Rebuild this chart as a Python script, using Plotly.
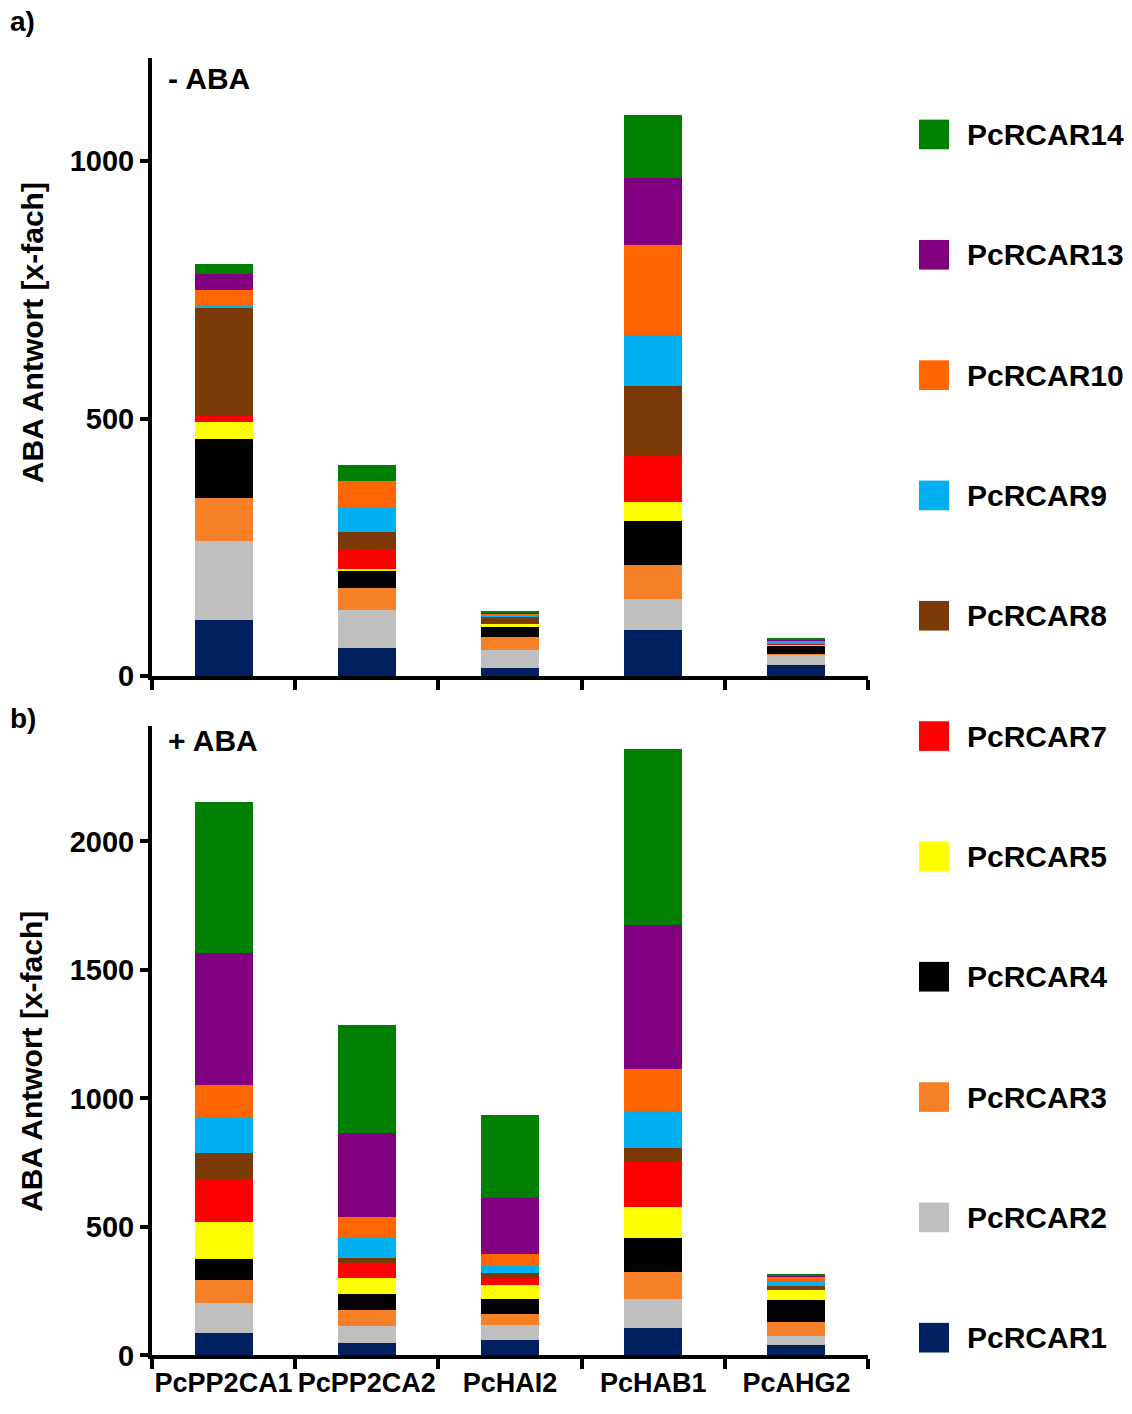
import plotly.graph_objects as go

W, H = 1132, 1414

# ---------------- data ----------------
categories = ["PcPP2CA1", "PcPP2CA2", "PcHAI2", "PcHAB1", "PcAHG2"]
series_names = ["PcRCAR1", "PcRCAR2", "PcRCAR3", "PcRCAR4", "PcRCAR5", "PcRCAR7",
                "PcRCAR8", "PcRCAR9", "PcRCAR10", "PcRCAR13", "PcRCAR14"]
series_colors = ["#002060", "#BFBFBF", "#F58025", "#000000", "#FFFF00", "#FF0000",
                 "#7B3907", "#00B0F0", "#FF6600", "#800080", "#008000"]

# a) - ABA
minus_RCAR1 = [110, 54, 16, 89, 22]
minus_RCAR2 = [152, 75, 35, 62, 20]
minus_RCAR3 = [85, 42, 25, 66, 2]
minus_RCAR4 = [114, 34, 20, 85, 15]
minus_RCAR5 = [32, 3, 5, 36, 2]
minus_RCAR7 = [12, 40, 2, 89, 1]
minus_RCAR8 = [210, 32, 13, 137, 1]
minus_RCAR9 = [5, 48, 2, 99, 3]
minus_RCAR10 = [30, 52, 3, 174, 3]
minus_RCAR13 = [31, 0, 1, 131, 2]
minus_RCAR14 = [19, 30, 5, 122, 1]

# b) + ABA
plus_RCAR1 = [86, 50, 60, 105, 41]
plus_RCAR2 = [117, 65, 58, 113, 35]
plus_RCAR3 = [91, 61, 44, 108, 54]
plus_RCAR4 = [81, 63, 59, 131, 85]
plus_RCAR5 = [145, 61, 55, 122, 40]
plus_RCAR7 = [165, 61, 26, 174, 8]
plus_RCAR8 = [103, 19, 20, 56, 6]
plus_RCAR9 = [136, 81, 27, 142, 19]
plus_RCAR10 = [127, 79, 45, 164, 19]
plus_RCAR13 = [514, 327, 219, 559, 5]
plus_RCAR14 = [589, 420, 324, 687, 4]

minus_values = [minus_RCAR1, minus_RCAR2, minus_RCAR3, minus_RCAR4, minus_RCAR5, minus_RCAR7,
                minus_RCAR8, minus_RCAR9, minus_RCAR10, minus_RCAR13, minus_RCAR14]
plus_values = [plus_RCAR1, plus_RCAR2, plus_RCAR3, plus_RCAR4, plus_RCAR5, plus_RCAR7,
               plus_RCAR8, plus_RCAR9, plus_RCAR10, plus_RCAR13, plus_RCAR14]

yticks_a = [0, 500, 1000]
yticks_b = [0, 500, 1000, 1500, 2000]
y_title = "ABA Antwort [x-fach]"

# ---------------- figure ----------------
FONT = "Liberation Sans"


def px(x):
    return x / W


def py(y):
    return 1 - y / H


fig = go.Figure()

for name, color, vals in zip(series_names, series_colors, minus_values):
    fig.add_trace(go.Bar(x=categories, y=vals, name=name, marker=dict(color=color, line=dict(width=0)),
                         width=0.405, xaxis="x", yaxis="y", showlegend=False))
for name, color, vals in zip(series_names, series_colors, plus_values):
    fig.add_trace(go.Bar(x=categories, y=vals, name=name, marker=dict(color=color, line=dict(width=0)),
                         width=0.405, xaxis="x2", yaxis="y2", showlegend=False))

axis_common = dict(showline=True, linecolor="black", linewidth=4, showgrid=False, zeroline=False,
                   ticks="outside", tickcolor="black", tickwidth=4)
tick_font = dict(family=FONT, size=29, color="black", weight="bold")
cat_font = dict(family=FONT, size=27, color="black", weight="bold")

xdom = [px(152), px(868)]
fig.update_layout(
    width=W, height=H, margin=dict(l=0, r=0, t=0, b=0),
    paper_bgcolor="white", plot_bgcolor="white", barmode="stack", showlegend=False,
    xaxis=dict(domain=xdom, anchor="y", range=[-0.5, 4.5], type="category", tickson="boundaries",
               ticklen=10, showticklabels=False, **axis_common),
    yaxis=dict(domain=[py(684), py(59)], anchor="x", range=[0, 1200], tickvals=yticks_a, ticklen=8,
               tickfont=tick_font, **axis_common),
    xaxis2=dict(domain=xdom, anchor="y2", range=[-0.5, 4.5], type="category", tickson="boundaries",
                ticklen=10, tickangle=0, tickfont=cat_font, **axis_common),
    yaxis2=dict(domain=[py(1371), py(734)], anchor="x2", range=[0, 2450], tickvals=yticks_b, ticklen=8,
                tickfont=tick_font, **axis_common),
)

annos = []


def txt(t, x, y, size, xanchor="left", angle=0):
    annos.append(dict(text=t, x=px(x), y=py(y), xref="paper", yref="paper", xanchor=xanchor,
                      yanchor="middle", showarrow=False, textangle=angle,
                      font=dict(family=FONT, size=size, color="black", weight="bold")))


txt("a)", 8, 22, 28)
txt("b)", 8, 727, 28)
txt("- ABA", 166, 79, 30)
txt("+ ABA", 166, 749, 30)
txt(y_title, 32, 337, 30, xanchor="center", angle=-90)
txt(y_title, 32, 1074, 30, xanchor="center", angle=-90)

# legend (top to bottom), drawn as swatches + labels
shapes = []
legend_order = list(range(len(series_names)))[::-1]
for k, i in enumerate(legend_order):
    cy = 136 + k * 121.7
    shapes.append(dict(type="rect", xref="paper", yref="paper", x0=px(919), x1=px(949),
                       y0=py(cy + 15), y1=py(cy - 15), fillcolor=series_colors[i], line=dict(width=0)))
    txt(series_names[i], 965, cy, 30)

fig.update_layout(annotations=annos, shapes=shapes)
fig.write_html("out.html")
